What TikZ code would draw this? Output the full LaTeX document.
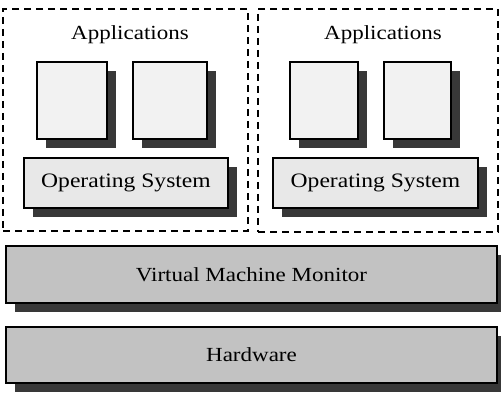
\documentclass[tikz,border=0pt]{standalone}
\usepackage{fontspec}
\setmainfont[FakeStretch=1.15]{Liberation Serif}
\usetikzlibrary{shadows}
\tikzset{
  vmbox/.style={draw=black, line width=2.2pt, dash pattern=on 7pt off 5pt},
  shad/.style={drop shadow={shadow xshift=9pt, shadow yshift=-9pt, fill=black!78, opacity=1}},
  appbox/.style={draw=black, line width=1.8pt, fill=black!5, shad, minimum width=70pt, minimum height=77pt, inner sep=0pt},
  osbox/.style={draw=black, line width=1.8pt, fill=black!9, shad, minimum width=204pt, minimum height=50pt, inner sep=0pt, font=\fontsize{20.5}{22}\selectfont},
  layerbox/.style={draw=black, line width=1.8pt, fill=black!24, shad, minimum width=491pt, minimum height=57pt, inner sep=0pt, font=\fontsize{20}{22}\selectfont},
  lbl/.style={font=\fontsize{20}{22}\selectfont, inner sep=0pt}
}
\begin{document}
\begin{tikzpicture}[x=1pt, y=-1pt]
\useasboundingbox[fill=white] (0,0) rectangle (501,395);
% dashed VM boxes
\node[vmbox, minimum width=245pt, minimum height=222pt, inner sep=0pt] (vm1) at (125.5,120) {};
\node[vmbox, minimum width=240pt, minimum height=223pt, inner sep=0pt] (vm2) at (378,120.5) {};
% labels
\node[lbl] (app1) at (130,35) {Applications};
\node[lbl] (app2) at (383,35) {Applications};
% application boxes
\node[appbox] (a11) at (72,100.5) {};
\node[appbox, minimum width=74pt] (a12) at (170,100.5) {};
\node[appbox, minimum width=68pt] (a21) at (324,100.5) {};
\node[appbox, minimum width=67pt] (a22) at (417.5,100.5) {};
% OS boxes
\node[osbox] (os1) at (126,183) {Operating System};
\node[osbox, minimum width=205pt] (os2) at (375.5,183) {Operating System};
% layers
\node[layerbox] (vmm) at (251.5,274.5) {Virtual Machine Monitor};
\node[layerbox, minimum height=56pt] (hw) at (251.5,355) {Hardware};
\end{tikzpicture}
\end{document}
